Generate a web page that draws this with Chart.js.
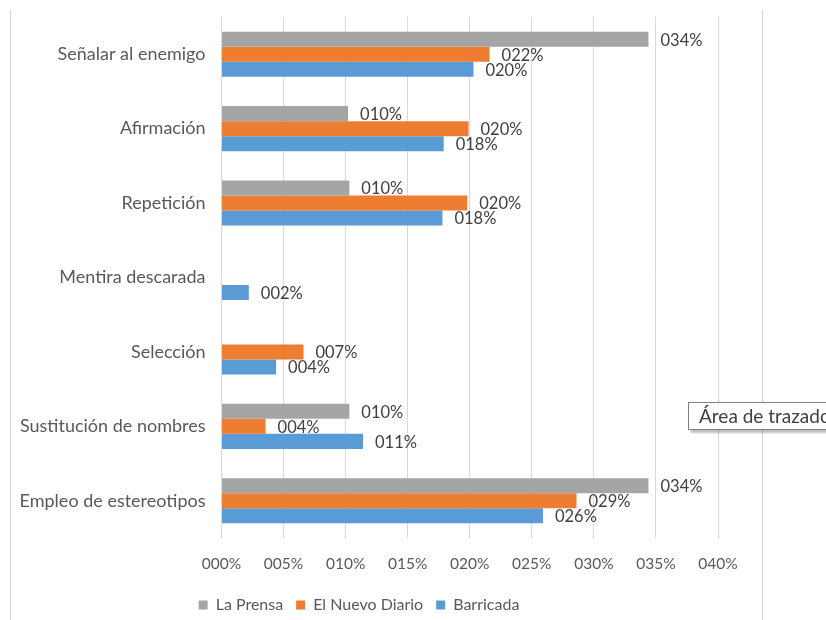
<!DOCTYPE html>
<html>
<head>
<meta charset="utf-8">
<script src="https://cdn.jsdelivr.net/npm/chart.js@4"></script>
<style>
  html, body { margin:0; padding:0; background:#fff; width:826px; height:620px; overflow:hidden; }
  #wrap { position:relative; width:826px; height:620px; overflow:hidden; }
  #c { position:absolute; left:0; top:0; }
  .vline { position:absolute; width:1px; background:#d9d9d9; }
  #tip { position:absolute; left:688px; top:402px; width:170px; height:26px; border:1px solid #7f7f7f;
         background:#fff; box-shadow:3px 3px 2px rgba(0,0,0,0.25); font-family:Lato, sans-serif;
         font-size:19px; color:#404040; line-height:26px; padding-left:10px; white-space:nowrap; }
</style>
</head>
<body>
<div id="wrap">
  <div class="vline" style="left:10px; top:10px; height:610px;"></div>
  <div class="vline" style="left:762px; top:10px; height:610px;"></div>
  <canvas id="c" width="740" height="640" style="width:740px;height:640px;"></canvas>
  <div id="tip">Área de trazado</div>
</div>
<script>
const categories = ["Señalar al enemigo","Afirmación","Repetición","Mentira descarada","Selección","Sustitución de nombres","Empleo de estereotipos"];
const seriesNames = ["La Prensa","El Nuevo Diario","Barricada"];
const laPrensa      = [0.344, 0.102, 0.103, 0,     0,     0.103, 0.344];
const elNuevoDiario = [0.216, 0.199, 0.198, 0,     0.066, 0.0355, 0.286];
const barricada     = [0.203, 0.179, 0.178, 0.022, 0.044, 0.114, 0.259];
const xTicks = [0, 0.05, 0.10, 0.15, 0.20, 0.25, 0.30, 0.35, 0.40];
const colors = ["#A5A5A5","#ED7D31","#5B9BD5"];

function fmtPct(v){ return String(Math.round(v*100)).padStart(3,'0') + '%'; }

const FONT = 'Lato, sans-serif';

const labelPlugin = {
  id: 'barLabels',
  afterDatasetsDraw(chart){
    const ctx = chart.ctx;
    ctx.save();
    ctx.font = '16.5px ' + FONT;
    ctx.fillStyle = '#404040';
    ctx.textAlign = 'left';
    ctx.textBaseline = 'middle';
    chart.data.datasets.forEach((ds, i) => {
      const meta = chart.getDatasetMeta(i);
      meta.data.forEach((el, j) => {
        const v = ds.data[j];
        if (!v) return;
        ctx.fillText(fmtPct(v), el.x + 12, el.y + 1);
      });
    });
    ctx.restore();
  }
};

new Chart(document.getElementById('c'), {
  type: 'bar',
  data: {
    labels: categories,
    datasets: [
      { label: seriesNames[0], data: laPrensa, backgroundColor: colors[0] },
      { label: seriesNames[1], data: elNuevoDiario, backgroundColor: colors[1] },
      { label: seriesNames[2], data: barricada, backgroundColor: colors[2] }
    ]
  },
  options: {
    indexAxis: 'y',
    responsive: false,
    animation: false,
    devicePixelRatio: 1,
    layout: { padding: { top: 17, right: 22, left: 0, bottom: 17 } },
    datasets: { bar: { barPercentage: 1.0, categoryPercentage: 0.606 } },
    scales: {
      x: {
        min: 0, max: 0.4,
        afterBuildTicks(axis){ axis.ticks = xTicks.map(v => ({ value: v })); },
        afterFit(axis){ axis.height = 46; axis.paddingLeft = 0; axis.paddingRight = 0; },
        grid: { color: '#d9d9d9', drawTicks: false, lineWidth: 1 },
        border: { display: false },
        ticks: { padding: 17, color: '#595959', font: { family: FONT, size: 15.5 }, callback: v => fmtPct(v) }
      },
      y: {
        afterFit(axis){ axis.width = 221.5; axis.paddingTop = 0; axis.paddingBottom = 0; },
        grid: { display: false, drawTicks: false },
        border: { display: false },
        ticks: { padding: 16, color: '#595959', font: { family: FONT, size: 18 } }
      }
    },
    plugins: {
      legend: {
        position: 'bottom',
        labels: { boxWidth: 9, boxHeight: 9, color: '#595959', font: { family: FONT, size: 16 }, padding: 13 }
      },
      tooltip: { enabled: false }
    }
  },
  plugins: [labelPlugin]
});
</script>
</body>
</html>
